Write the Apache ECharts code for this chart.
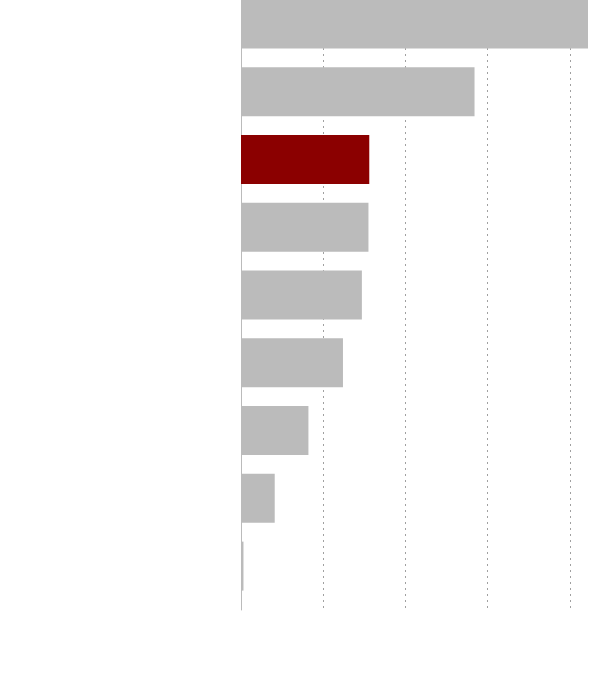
<!DOCTYPE html>
<html>
<head>
<meta charset="utf-8">
<script src="https://cdn.jsdelivr.net/npm/echarts@6/dist/echarts.min.js"></script>
<style>
  html, body { margin: 0; padding: 0; background: #fff; }
  #chart { width: 600px; height: 690px; }
</style>
</head>
<body>
<div id="chart"></div>
<script>
// values, top bar first
const categories = ['A', 'B', 'C', 'D', 'E', 'F', 'G', 'H', 'I'];
const values = [42.2, 28.4, 15.6, 15.5, 14.7, 12.4, 8.2, 4.1, 0.3];
const highlightIndex = 2;

const chart = echarts.init(document.getElementById('chart'));

const barData = values.map((v, i) => ({
  value: v,
  itemStyle: { color: i === highlightIndex ? '#8b0000' : '#bbbbbb' }
}));

chart.setOption({
  animation: false,
  grid: { left: 241, right: 12, top: 0, bottom: 80 },
  xAxis: {
    type: 'value',
    min: 0,
    max: 'dataMax',
    interval: 10,
    axisLine: { show: false },
    axisTick: { show: false },
    axisLabel: { show: false },
    splitLine: {
      show: true,
      showMinLine: false,
      showMaxLine: false,
      lineStyle: { color: '#a0a0a0', type: [2, 4], width: 1 }
    }
  },
  yAxis: {
    type: 'category',
    data: categories,
    inverse: true,
    axisLine: { show: true, lineStyle: { color: '#bbbbbb', width: 1 } },
    axisTick: { show: false },
    axisLabel: { show: false },
    splitLine: { show: false }
  },
  series: [
    {
      type: 'bar',
      data: barData,
      barWidth: 49,
      barGap: '0%'
    },
    {
      // empty companion series keeps the bars off-centre like the source
      type: 'bar',
      data: categories.map(() => null),
      barWidth: 20
    }
  ]
});
</script>
</body>
</html>
